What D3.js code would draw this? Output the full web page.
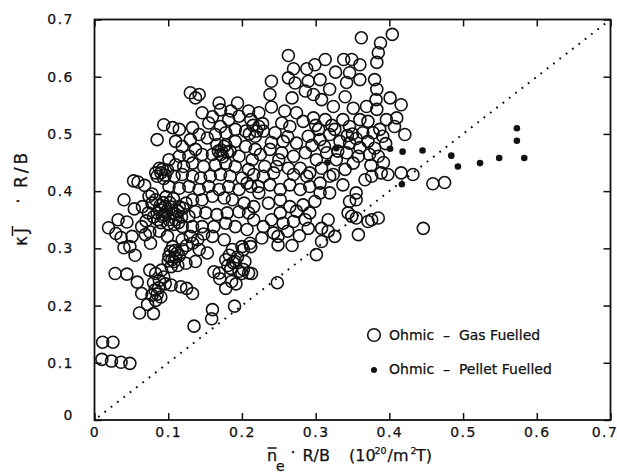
<!DOCTYPE html>
<html>
<head>
<meta charset="utf-8">
<script src="https://cdn.jsdelivr.net/npm/d3@7"></script>
<style>
  body { margin: 0; background: #fff; }
  text { font-family: "DejaVu Sans", sans-serif; fill: #111; stroke: #111; stroke-width: 0.25px; }
</style>
</head>
<body>
<div id="chart"></div>
<script>
// n_e R/B (x) vs kappa*J R/B (y)
const gasFuelled = [
  // far left
  [0.011,0.136],[0.025,0.136],[0.010,0.106],[0.023,0.103],[0.036,0.101],[0.048,0.099],
  [0.028,0.256],[0.044,0.255],
  [0.019,0.336],[0.032,0.350],[0.044,0.346],[0.029,0.326],[0.036,0.319],[0.040,0.301],[0.048,0.303],[0.055,0.288],[0.051,0.321],
  [0.040,0.385],[0.053,0.418],[0.059,0.416],[0.054,0.369],
  [0.064,0.338],[0.069,0.324],[0.076,0.309],[0.075,0.329],[0.088,0.330],[0.099,0.321],
  // blob near 0.1, 0.29
  [0.106,0.303],[0.101,0.286],[0.112,0.292],[0.108,0.277],[0.119,0.298],[0.104,0.268],[0.110,0.285],[0.113,0.270],[0.103,0.295],
  [0.105,0.280],[0.109,0.296],[0.115,0.287],[0.100,0.278],
  [0.133,0.309],[0.142,0.298],[0.153,0.292],[0.137,0.277],[0.124,0.274],[0.119,0.315],[0.130,0.321],
  [0.125,0.305],[0.140,0.315],[0.148,0.325],
  [0.160,0.321],[0.176,0.315],[0.187,0.298],[0.200,0.303],[0.178,0.280],[0.191,0.277],[0.212,0.303],[0.169,0.257],[0.196,0.260],[0.209,0.257],[0.183,0.288],
  [0.188,0.275],[0.194,0.285],[0.185,0.265],
  // blob near 0.1, 0.36
  [0.074,0.391],[0.065,0.373],[0.078,0.379],[0.088,0.368],[0.096,0.373],[0.106,0.362],[0.092,0.356],[0.101,0.350],[0.110,0.350],[0.115,0.373],
  [0.124,0.379],[0.133,0.385],[0.146,0.385],[0.160,0.391],[0.176,0.388],[0.187,0.385],[0.203,0.379],[0.216,0.373],[0.209,0.362],[0.196,0.364],
  [0.180,0.362],[0.166,0.359],[0.151,0.362],[0.137,0.364],[0.128,0.356],[0.119,0.338],[0.133,0.338],[0.146,0.338],[0.162,0.338],[0.178,0.344],
  [0.191,0.338],[0.207,0.333],
  [0.085,0.362],[0.098,0.365],[0.104,0.372],[0.093,0.380],[0.110,0.360],[0.100,0.343],[0.086,0.350],[0.073,0.362],[0.078,0.395],[0.068,0.410],
  [0.080,0.355],[0.090,0.345],[0.095,0.358],[0.102,0.380],[0.108,0.342],[0.113,0.365],[0.118,0.355],[0.083,0.385],[0.097,0.390],[0.107,0.387],
  [0.070,0.348],[0.089,0.375],[0.114,0.345],[0.120,0.370],
  // lower group
  [0.058,0.241],[0.064,0.221],[0.061,0.187],[0.072,0.202],[0.080,0.186],[0.083,0.209],[0.082,0.227],[0.075,0.262],[0.083,0.256],[0.088,0.244],
  [0.096,0.238],[0.091,0.262],[0.104,0.236],[0.117,0.233],[0.125,0.230],[0.133,0.221],[0.078,0.218],[0.087,0.231],[0.094,0.250],[0.135,0.164],
  [0.085,0.220],[0.080,0.240],[0.090,0.215],
  [0.160,0.193],[0.159,0.177],[0.190,0.199],[0.162,0.259],[0.170,0.247],[0.178,0.230],[0.186,0.242],[0.192,0.238],[0.200,0.256],[0.213,0.256],
  [0.181,0.270],[0.248,0.240],
  // upper left
  [0.130,0.572],[0.142,0.569],[0.137,0.563],[0.146,0.537],[0.169,0.554],[0.171,0.542],[0.194,0.554],[0.209,0.540],[0.223,0.537],[0.094,0.516],
  [0.085,0.490],[0.106,0.511],[0.115,0.508],[0.133,0.511],[0.142,0.499],[0.130,0.490],[0.110,0.487],[0.119,0.478],[0.155,0.519],[0.171,0.513],
  [0.182,0.525],[0.196,0.531],[0.212,0.525],[0.223,0.513],[0.218,0.496],[0.205,0.505],[0.191,0.508],[0.178,0.502],[0.164,0.499],[0.153,0.493],
  [0.166,0.481],[0.178,0.481],[0.191,0.487],[0.205,0.478],[0.218,0.473],[0.137,0.473],[0.146,0.464],[0.128,0.461],[0.115,0.461],[0.101,0.455],
  [0.160,0.464],[0.171,0.464],[0.184,0.470],[0.196,0.461],[0.214,0.455],[0.225,0.464],[0.092,0.438],[0.085,0.426],[0.090,0.432],[0.096,0.428],
  [0.088,0.440],[0.094,0.422],[0.099,0.437],[0.083,0.432],
  [0.110,0.446],[0.121,0.443],[0.133,0.449],[0.148,0.443],[0.164,0.446],[0.178,0.449],[0.191,0.443],[0.209,0.438],[0.108,0.426],[0.119,0.429],
  [0.133,0.426],[0.144,0.423],[0.157,0.426],[0.171,0.429],[0.184,0.426],[0.200,0.423],[0.216,0.429],[0.101,0.408],[0.115,0.405],[0.128,0.408],
  [0.142,0.403],[0.155,0.408],[0.169,0.403],[0.182,0.408],[0.196,0.403],[0.212,0.408],[0.223,0.397],[0.172,0.472],[0.176,0.478],
  [0.168,0.470],[0.180,0.468],[0.174,0.460],[0.160,0.530],[0.185,0.540],
  [0.215,0.515],[0.220,0.505],[0.228,0.518],[0.210,0.500],
  // upper right
  [0.362,0.668],[0.404,0.674],[0.388,0.659],[0.385,0.642],[0.383,0.625],[0.263,0.637],[0.240,0.592],[0.238,0.569],[0.240,0.547],[0.270,0.614],
  [0.288,0.614],[0.299,0.621],[0.313,0.630],[0.338,0.630],[0.349,0.630],[0.360,0.621],[0.327,0.608],[0.346,0.607],[0.263,0.598],[0.272,0.589],
  [0.290,0.592],[0.306,0.595],[0.319,0.578],[0.342,0.590],[0.360,0.595],[0.380,0.595],[0.383,0.578],[0.382,0.560],[0.383,0.543],[0.268,0.563],
  [0.286,0.575],[0.297,0.569],[0.308,0.560],[0.324,0.548],[0.340,0.565],[0.351,0.545],[0.369,0.548],[0.401,0.563],[0.416,0.551],[0.410,0.528],
  [0.421,0.499],[0.407,0.513],[0.396,0.525],[0.387,0.508],[0.391,0.496],[0.371,0.522],[0.378,0.502],[0.360,0.525],[0.364,0.502],[0.346,0.513],
  [0.337,0.525],[0.326,0.508],[0.313,0.525],[0.304,0.508],[0.297,0.528],[0.283,0.522],[0.274,0.537],[0.258,0.540],[0.254,0.519],[0.265,0.513],
  [0.229,0.505],[0.245,0.502],[0.256,0.487],[0.274,0.484],[0.290,0.496],[0.306,0.490],[0.319,0.499],[0.333,0.487],[0.346,0.484],[0.360,0.476],
  [0.371,0.487],[0.385,0.461],[0.373,0.464],[0.358,0.461],[0.342,0.467],[0.328,0.455],[0.315,0.467],[0.301,0.455],[0.286,0.467],[0.270,0.461],
  [0.254,0.467],[0.238,0.473],[0.231,0.443],[0.247,0.443],[0.263,0.440],[0.279,0.440],[0.292,0.432],[0.308,0.440],[0.324,0.429],[0.340,0.438],
  [0.351,0.449],[0.367,0.420],[0.389,0.432],[0.398,0.429],[0.416,0.432],[0.432,0.429],[0.376,0.426],
  [0.350,0.500],[0.355,0.492],[0.343,0.497],[0.240,0.485],[0.262,0.495],[0.250,0.455],
  [0.295,0.480],[0.312,0.478],[0.330,0.470],[0.322,0.515],[0.300,0.515],
  [0.380,0.475],[0.395,0.483],[0.392,0.450],[0.375,0.445],
  // middle
  [0.288,0.426],[0.306,0.414],[0.319,0.426],[0.337,0.411],[0.355,0.397],[0.346,0.382],[0.344,0.362],[0.355,0.353],[0.376,0.350],[0.385,0.353],
  [0.358,0.324],[0.317,0.350],[0.308,0.335],[0.317,0.330],[0.326,0.321],[0.308,0.312],[0.301,0.289],[0.292,0.362],[0.286,0.350],[0.274,0.365],
  [0.283,0.376],[0.265,0.373],[0.252,0.362],[0.270,0.347],[0.256,0.344],[0.240,0.350],[0.229,0.338],[0.243,0.327],[0.227,0.318],[0.249,0.321],
  [0.249,0.306],[0.268,0.305],[0.216,0.350],[0.211,0.309],[0.202,0.298],[0.204,0.277],[0.202,0.263],[0.252,0.385],[0.236,0.379],[0.299,0.382],
  [0.306,0.397],[0.319,0.397],[0.292,0.408],[0.279,0.403],[0.265,0.411],[0.252,0.403],[0.238,0.411],[0.222,0.408],[0.207,0.414],[0.229,0.426],
  [0.243,0.432],[0.270,0.429],[0.371,0.347],[0.349,0.356],[0.355,0.385],
  [0.278,0.322],[0.262,0.330],[0.290,0.335],
  // right edge
  [0.459,0.413],[0.475,0.415],[0.446,0.335]
];

const pelletFuelled = [
  [0.401,0.474],[0.418,0.469],[0.445,0.471],[0.417,0.412],[0.484,0.462],[0.493,0.443],
  [0.523,0.449],[0.549,0.458],[0.573,0.510],[0.573,0.488],[0.583,0.458],[0.328,0.475],[0.316,0.450]
];

const xTicks = [0, 0.1, 0.2, 0.3, 0.4, 0.5, 0.6, 0.7];
const yTicks = [0, 0.1, 0.2, 0.3, 0.4, 0.5, 0.6, 0.7];
const legendLabels = ["Ohmic  \u2013  Gas Fuelled", "Ohmic  \u2013  Pellet Fuelled"];

const width = 617, height = 474;
const plotLeft = 94.5, plotRight = 610.5, plotTop = 19.5, plotBottom = 420;

const svg = d3.select("#chart")
  .append("svg")
    .attr("width", width)
    .attr("height", height);

svg.append("rect")
  .attr("width", width)
  .attr("height", height)
  .attr("fill", "#fff");

const x = d3.scaleLinear().domain([0, 0.7]).range([plotLeft, plotRight]);
const y = d3.scaleLinear().domain([0, 0.7]).range([plotBottom, plotTop]);

const fmt = d => d === 0 ? "0" : d3.format(".1f")(d);

// axes with inward ticks
const xAxisG = svg.append("g")
  .attr("transform", `translate(0,${plotBottom})`)
  .call(d3.axisBottom(x).tickValues(xTicks).tickFormat(fmt).tickSizeInner(-7).tickSizeOuter(0).tickPadding(7))
  .call(g => g.select(".domain").remove());

svg.append("g")
  .attr("transform", `translate(0,${plotTop})`)
  .call(d3.axisTop(x).tickValues(xTicks).tickFormat("").tickSizeInner(-7).tickSizeOuter(0))
  .call(g => g.select(".domain").remove());

const yAxisG = svg.append("g")
  .attr("transform", `translate(${plotLeft},0)`)
  .call(d3.axisLeft(y).tickValues(yTicks).tickFormat(fmt).tickSizeInner(-7).tickSizeOuter(0).tickPadding(20.5))
  .call(g => g.select(".domain").remove());

svg.append("g")
  .attr("transform", `translate(${plotRight},0)`)
  .call(d3.axisRight(y).tickValues(yTicks).tickFormat("").tickSizeInner(-7).tickSizeOuter(0))
  .call(g => g.select(".domain").remove());

svg.selectAll(".tick line")
  .attr("stroke", "#111")
  .attr("stroke-width", 1.5);

svg.selectAll(".tick text")
  .style("font-family", "DejaVu Sans, sans-serif")
  .style("font-size", "14px")
  .style("letter-spacing", "1.5px")
  .attr("fill", "#111");

// last x label sits a little left of its tick, y "0" a little high
xAxisG.selectAll(".tick text").filter(d => d === 0.7).attr("x", -6);
yAxisG.selectAll(".tick text").filter(d => d === 0).attr("y", -5);

// frame
svg.append("rect")
  .attr("x", plotLeft)
  .attr("y", plotTop)
  .attr("width", plotRight - plotLeft)
  .attr("height", plotBottom - plotTop)
  .attr("fill", "none")
  .attr("stroke", "#111")
  .attr("stroke-width", 1.8);

// y = x reference
svg.append("line")
  .attr("x1", x(0.005))
  .attr("y1", y(0.005))
  .attr("x2", x(0.7))
  .attr("y2", y(0.7))
  .attr("stroke", "#111")
  .attr("stroke-width", 2)
  .attr("stroke-dasharray", "1.8,6.2");

svg.append("g")
  .selectAll("circle")
  .data(gasFuelled)
  .join("circle")
    .attr("cx", d => x(d[0]))
    .attr("cy", d => y(d[1]))
    .attr("r", 6)
    .attr("fill", "none")
    .attr("stroke", "#111")
    .attr("stroke-width", 1.6);

svg.append("g")
  .selectAll("circle")
  .data(pelletFuelled)
  .join("circle")
    .attr("cx", d => x(d[0]))
    .attr("cy", d => y(d[1]))
    .attr("r", 3.3)
    .attr("fill", "#111");

// legend
svg.append("circle")
  .attr("cx", 374).attr("cy", 335).attr("r", 6.3)
  .attr("fill", "none").attr("stroke", "#111").attr("stroke-width", 1.6);
svg.append("circle")
  .attr("cx", 374).attr("cy", 370).attr("r", 3)
  .attr("fill", "#111");
svg.append("text")
  .attr("x", 389).attr("y", 340)
  .attr("xml:space", "preserve")
  .style("font-size", "14px")
  .text(legendLabels[0]);
svg.append("text")
  .attr("x", 389).attr("y", 374)
  .attr("xml:space", "preserve")
  .style("font-size", "14px")
  .text(legendLabels[1]);

// x axis title: n_e . R/B (10^20/m^2 T)
const xt = svg.append("g").style("font-size", "16px");
const nText = xt.append("text").attr("x", 267).attr("y", 461).text("n");
const nBox = nText.node().getBBox();
xt.append("line")
  .attr("x1", nBox.x + 0.5).attr("x2", nBox.x + nBox.width - 0.5)
  .attr("y1", 448).attr("y2", 448)
  .attr("stroke", "#111").attr("stroke-width", 1.5);
xt.append("text").attr("x", 276).attr("y", 471).style("font-size", "14px").text("e");
xt.append("text").attr("x", 293).attr("y", 458).attr("text-anchor", "middle").text("\u00b7");
xt.append("text").attr("x", 302.5).attr("y", 461).text("R/B");
xt.append("text").attr("x", 349).attr("y", 461).text("(10");
xt.append("text").attr("x", 374.5).attr("y", 453.5).style("font-size", "9.5px").text("20");
xt.append("text").attr("x", 387.5).attr("y", 461).text("/m");
xt.append("text").attr("x", 410.5).attr("y", 453.5).style("font-size", "9.5px").text("2");
xt.append("text").attr("x", 416).attr("y", 461).text("T)");

// y axis title: kappa J-bar . R/B, rotated
const yt = svg.append("g")
  .attr("transform", "translate(27,0) rotate(-90)")
  .style("font-size", "17px");
yt.append("text").attr("x", -246).attr("y", 0).text("\u03ba");
const jText = yt.append("text").attr("x", -233).attr("y", 0).text("J");
const jBox = jText.node().getBBox();
yt.append("line")
  .attr("x1", jBox.x - 2).attr("x2", jBox.x + jBox.width + 2)
  .attr("y1", -14.5).attr("y2", -14.5)
  .attr("stroke", "#111").attr("stroke-width", 1.5);
yt.append("text").attr("x", -201).attr("y", -3).attr("text-anchor", "middle").text("\u00b7");
yt.append("text").attr("x", -188).attr("y", 0).style("letter-spacing", "3px").text("R/B");
</script>
</body>
</html>
